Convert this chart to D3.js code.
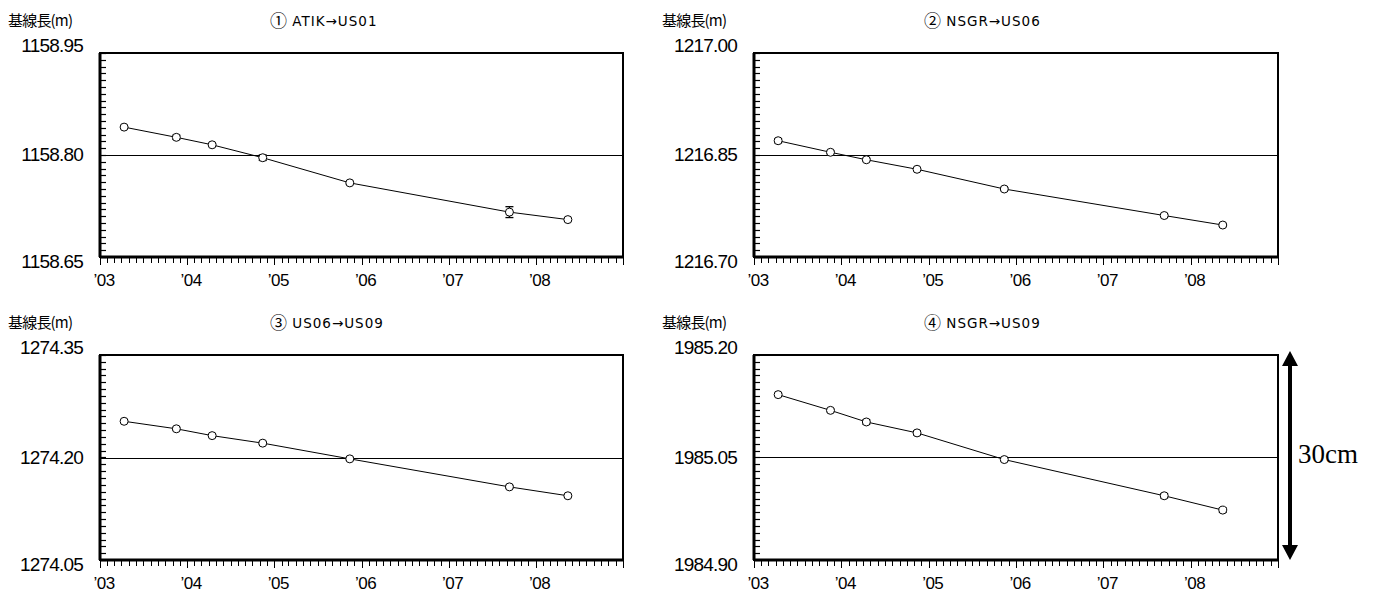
<!DOCTYPE html>
<html><head><meta charset="utf-8">
<script src="https://cdn.jsdelivr.net/npm/d3@7"></script>
<style>
html,body{margin:0;padding:0;background:#fff;}
svg{display:block;}
</style>
</head><body>
<svg id="c" width="1385" height="599"></svg>
<script>
// ---- data ----
const dates = ["2003-04-12","2003-11-17","2004-04-15","2004-11-13","2005-11-13","2007-09-13","2008-05-15"];
const titles = ["① ATIK→US01","② NSGR→US06","③ US06→US09","④ NSGR→US09"];
const yLabel = "基線長(m)";
const s1 = [1158.841, 1158.826, 1158.815, 1158.796, 1158.759, 1158.716, 1158.705];
const s2 = [1216.871, 1216.854, 1216.843, 1216.829, 1216.800, 1216.761, 1216.747];
const s3 = [1274.253, 1274.242, 1274.232, 1274.221, 1274.198, 1274.157, 1274.144];
const s4 = [1985.142, 1985.119, 1985.102, 1985.086, 1985.047, 1984.994, 1984.973];
const e1 = [0.001, 0.003, 0.002, 0.004, 0.002, 0.008, 0.002];
const e2 = [0.003, 0.002, 0.002, 0.002, 0.002, 0.002, 0.002];
const e3 = [0.002, 0.002, 0.002, 0.002, 0.002, 0.002, 0.002];
const e4 = [0.002, 0.002, 0.003, 0.003, 0.002, 0.003, 0.003];
const yMins = [1158.65, 1216.70, 1274.05, 1984.90];
const yMaxs = [1158.95, 1217.00, 1274.35, 1985.20];
const yTickLabels = [["1158.65","1158.80","1158.95"],["1216.70","1216.85","1217.00"],["1274.05","1274.20","1274.35"],["1984.90","1985.05","1985.20"]];
const yearTickLabels = ["’03","’04","’05","’06","’07","’08"];
const scaleNote = "30cm";

const series = [s1,s2,s3,s4];
const errs = [e1,e2,e3,e4];
const parse = d3.timeParse("%Y-%m-%d");

// ---- layout ----
const boxes = [
  {x0:100, x1:623, y0:53, y1:257},
  {x0:754, x1:1278, y0:53, y1:257},
  {x0:100, x1:623, y0:355, y1:560},
  {x0:754, x1:1278, y0:355, y1:560}
];
const svg = d3.select("#c");
const tickFont = "'Liberation Sans', Arial, sans-serif";

boxes.forEach((b,i)=>{
  const g = svg.append("g");
  const x = d3.scaleTime().domain([new Date(2003,0,1), new Date(2009,0,1)]).range([b.x0,b.x1]);
  const y = d3.scaleLinear().domain([yMins[i], yMaxs[i]]).range([b.y1,b.y0]);
  const mid = (yMins[i]+yMaxs[i])/2;

  // y label (clipped like original for some)
  const clipId = "clip"+i;
  svg.append("clipPath").attr("id",clipId).append("rect")
    .attr("x", b.x0-100).attr("y", b.y0-45).attr("width", i===2?92:88).attr("height",30);
  g.append("text").attr("clip-path","url(#"+clipId+")")
    .attr("x", b.x0-92).attr("y", b.y0-31)
    .attr("dominant-baseline","middle")
    .style("font-family","'Noto Sans CJK JP', sans-serif").style("font-size","15px")
    .style("letter-spacing","-0.8px")
    .text(yLabel);
  // title
  const t = g.append("text").attr("x", b.x0+170).attr("y", b.y0-31)
    .attr("dominant-baseline","middle");
  t.append("tspan")
    .style("font-family","'Noto Sans CJK JP', sans-serif").style("font-size","17px")
    .text(titles[i].slice(0,1));
  t.append("tspan")
    .style("font-family","'DejaVu Sans', sans-serif").style("font-size","13.5px")
    .style("letter-spacing","1px")
    .text(titles[i].slice(1));

  // y tick labels
  const yv = [yMins[i], mid, yMaxs[i]];
  const yOff = [6, 1, -6];
  yv.forEach((v,k)=>{
    g.append("text").attr("x", b.x0-17).attr("y", y(v)+yOff[k])
      .attr("text-anchor","end").attr("dominant-baseline","middle")
      .style("font-family",tickFont).style("font-size","19px").style("letter-spacing","-0.8px")
      .text(yTickLabels[i][k]);
  });

  // y minor ticks inside
  const yTicks = d3.range(0,31).map(k=>yMins[i]+k*0.01);
  g.append("g").selectAll("line").data(yTicks).join("line")
    .attr("x1", b.x0).attr("x2", b.x0+6)
    .attr("y1", d=>Math.round(y(d))+0.5).attr("y2", d=>Math.round(y(d))+0.5)
    .attr("stroke","#000").attr("stroke-width",1.2);

  // x monthly ticks below
  const months = d3.timeMonth.range(new Date(2003,0,1), new Date(2009,0,2));
  g.append("g").selectAll("line").data(months).join("line")
    .attr("x1", d=>Math.round(x(d))+0.5).attr("x2", d=>Math.round(x(d))+0.5)
    .attr("y1", b.y1).attr("y2", d=> d.getMonth()===0 ? b.y1+8 : b.y1+6)
    .attr("stroke","#000").attr("stroke-width",1);

  // year labels
  const years = d3.timeYear.range(new Date(2003,0,1), new Date(2008,0,2));
  g.append("g").selectAll("text").data(years).join("text")
    .attr("x", d=>x(d)+4).attr("y", b.y1+25)
    .attr("text-anchor","middle").attr("dominant-baseline","middle")
    .style("font-family",tickFont).style("font-size","17px").style("letter-spacing","-0.5px")
    .text((d,k)=>yearTickLabels[k]);

  // mid reference line
  g.append("line").attr("x1",b.x0).attr("x2",b.x1)
    .attr("y1",Math.round(y(mid))+0.5).attr("y2",Math.round(y(mid))+0.5)
    .attr("stroke","#000").attr("stroke-width",1);

  // box
  g.append("rect").attr("x",b.x0).attr("y",b.y0).attr("width",b.x1-b.x0).attr("height",b.y1-b.y0)
    .attr("fill","none").attr("stroke","#000").attr("stroke-width",2);
  g.append("line").attr("x1",b.x0).attr("x2",b.x0).attr("y1",b.y0).attr("y2",b.y1)
    .attr("stroke","#000").attr("stroke-width",3);
  g.append("line").attr("x1",b.x0).attr("x2",b.x1).attr("y1",b.y1).attr("y2",b.y1)
    .attr("stroke","#000").attr("stroke-width",3);

  // data
  const pts = dates.map((d,k)=>({d:parse(d), v:series[i][k], e:errs[i][k]}));
  g.append("path").datum(pts)
    .attr("d", d3.line().x(p=>x(p.d)).y(p=>y(p.v)))
    .attr("fill","none").attr("stroke","#000").attr("stroke-width",1);
  const eb = g.append("g").selectAll("g").data(pts).join("g");
  eb.append("line").attr("x1",p=>x(p.d)).attr("x2",p=>x(p.d))
    .attr("y1",p=>y(p.v-p.e)).attr("y2",p=>y(p.v+p.e)).attr("stroke","#000").attr("stroke-width",1.3);
  eb.append("line").attr("x1",p=>x(p.d)-4).attr("x2",p=>x(p.d)+4)
    .attr("y1",p=>y(p.v-p.e)).attr("y2",p=>y(p.v-p.e)).attr("stroke","#000").attr("stroke-width",1.3);
  eb.append("line").attr("x1",p=>x(p.d)-4).attr("x2",p=>x(p.d)+4)
    .attr("y1",p=>y(p.v+p.e)).attr("y2",p=>y(p.v+p.e)).attr("stroke","#000").attr("stroke-width",1.3);
  g.append("g").selectAll("circle").data(pts).join("circle")
    .attr("cx",p=>x(p.d)).attr("cy",p=>y(p.v)).attr("r",4)
    .attr("fill","#fff").attr("stroke","#000").attr("stroke-width",1);

  if(i===3){
    // 30cm scale arrow
    const ax = b.x1+12;
    const ya = y(yMaxs[i])-4, yb = y(yMins[i]);
    g.append("line").attr("x1",ax).attr("x2",ax).attr("y1",ya+12).attr("y2",yb-12)
      .attr("stroke","#000").attr("stroke-width",4);
    g.append("path").attr("d",`M${ax},${ya} L${ax-8},${ya+15} L${ax+8},${ya+15} Z`).attr("fill","#000");
    g.append("path").attr("d",`M${ax},${yb} L${ax-8},${yb-15} L${ax+8},${yb-15} Z`).attr("fill","#000");
    g.append("text").attr("x", ax+8).attr("y", y(mid)-1)
      .attr("dominant-baseline","middle")
      .style("font-family","'Liberation Serif', 'DejaVu Serif', serif").style("font-size","27px")
      .text(scaleNote);
  }
});
</script>
</body></html>
